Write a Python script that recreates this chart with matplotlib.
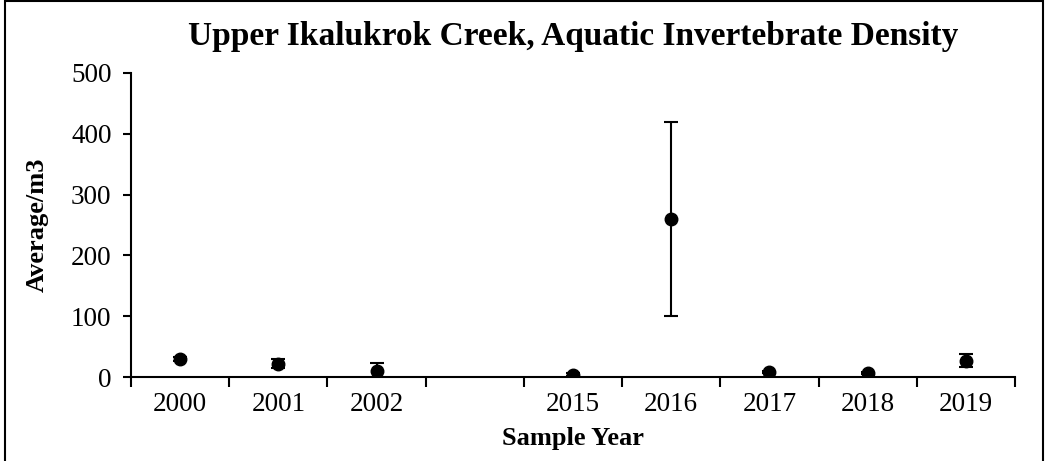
import numpy as np
import matplotlib.pyplot as plt
from matplotlib.patches import Rectangle

plt.rcParams['font.family'] = ['Liberation Serif', 'DejaVu Serif']

# data
years = ["2000", "2001", "2002", "", "2015", "2016", "2017", "2018", "2019"]
avg = [30, 22, 10, np.nan, 4, 260, 8, 7, 27]
err = [3, 8, 13, np.nan, 2, 160, 2, 2, 11]

x = np.arange(len(years))

fig = plt.figure(figsize=(10.46, 4.61), dpi=100)
ax = fig.add_axes([131/1046, 1 - 377/461, (1015 - 131)/1046, (377 - 73)/461])

ax.errorbar(x, avg, yerr=err, fmt='o', color='black', ecolor='black',
            markersize=9, elinewidth=1.5, capsize=5, capthick=1.5)

ax.set_xlim(-0.5, len(years) - 0.5)
ax.set_ylim(0, 500)
ax.set_yticks(np.arange(0, 501, 100))

# tick marks between categories, labels at centres
ax.set_xticks(np.arange(-0.5, len(years), 1))
ax.set_xticklabels([])
ax.set_xticks(x, minor=True)
ax.set_xticklabels(years, minor=True)
ax.tick_params(axis='x', which='major', direction='out', length=7, width=1.5)
ax.tick_params(axis='x', which='minor', length=0, pad=11, labelsize=19.5)
ax.tick_params(axis='y', direction='out', length=6, width=1.5, labelsize=19.5, pad=8)

for s in ['top', 'right']:
    ax.spines[s].set_visible(False)
for s in ['left', 'bottom']:
    ax.spines[s].set_linewidth(1.5)

ax.set_ylabel("Average/m3", fontsize=19, fontweight='bold', labelpad=16)
ax.set_xlabel("Sample Year", fontsize=19, fontweight='bold', labelpad=7)
ax.set_title("Upper Ikalukrok Creek, Aquatic Invertebrate Density",
             fontsize=24, fontweight='bold', pad=20)

# outer frame of the chart area
fig.patches.append(Rectangle((5/1046, -0.1), (1043 - 5)/1046, 1.1 - 1.5/461,
                             transform=fig.transFigure, fill=False,
                             edgecolor='black', linewidth=1.5))

fig.savefig("out.png", dpi=100)
